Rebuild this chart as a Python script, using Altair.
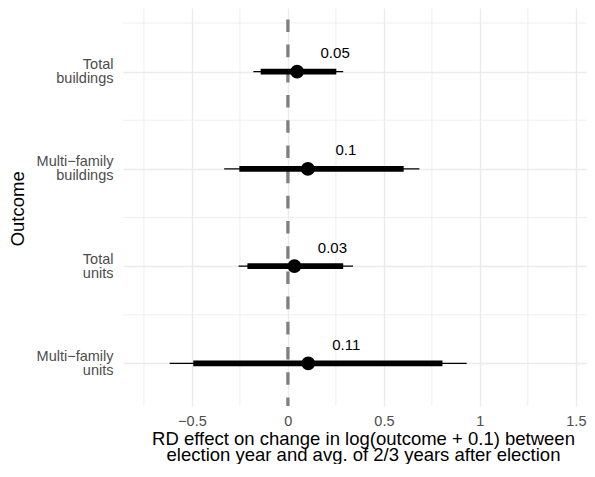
import altair as alt
import pandas as pd

# ---- data ----
outcomes = ["Total buildings", "Multi\u2212family buildings", "Total units", "Multi\u2212family units"]
positions = [4, 3, 2, 1]
estimates = [0.048, 0.104, 0.034, 0.106]
ci90_low = [-0.142, -0.253, -0.211, -0.493]
ci90_high = [0.252, 0.603, 0.288, 0.805]
ci95_low = [-0.180, -0.332, -0.257, -0.616]
ci95_high = [0.288, 0.685, 0.339, 0.931]
est_labels = ["0.05", "0.1", "0.03", "0.11"]

x_ticks = [-0.5, 0, 0.5, 1, 1.5]
x_tick_labels = ["\u22120.5", "0", "0.5", "1", "1.5"]
x_minor = [-0.75, -0.25, 0.25, 0.75, 1.25]
y_minor = [1.5, 2.5, 3.5, 4.5]
x_domain = [-0.859, 1.558]
y_domain = [0.561, 4.655]
ref_x = [0]

x_title = ["RD effect on change in log(outcome + 0.1) between",
           "election year and avg. of 2/3 years after election"]
y_title = "Outcome"

df = pd.DataFrame(dict(outcome=outcomes, pos=positions, est=estimates,
                       lo90=ci90_low, hi90=ci90_high, lo95=ci95_low, hi95=ci95_high,
                       label=est_labels))

W, H = 464, 398
FONT = "Liberation Sans"
GRID = "#EBEBEB"

xs = alt.Scale(domain=x_domain, nice=False, zero=False)
ys = alt.Scale(domain=y_domain, nice=False, zero=False)

x_label_expr = " : ".join(f"datum.value == {v} ? '{t}'" for v, t in zip(x_ticks, x_tick_labels)) + " : ''"
y_parts = []
for p, o in zip(positions, outcomes):
    a, b = o.rsplit(" ", 1)
    y_parts.append(f"datum.value == {p} ? ['{a}', '{b}']")
y_label_expr = " : ".join(y_parts) + " : ''"

x_axis = alt.Axis(values=x_ticks, labelExpr=x_label_expr, grid=True, gridColor=GRID, gridWidth=1.4,
                  domain=False, ticks=False, labelPadding=8.5, labelFontSize=14.5, labelColor="#4D4D4D",
                  labelFont=FONT, labelFlush=False, labelOverlap=False,
                  title=x_title, titleFont=FONT, titleFontSize=18.5, titleFontWeight="normal",
                  titleColor="black", titleLineHeight=16.3, titleBaseline="alphabetic",
                  titleX=240, titleY=38, titleAlign="center")
y_axis = alt.Axis(values=positions, labelExpr=y_label_expr, grid=True, gridColor=GRID, gridWidth=1.4,
                  domain=False, ticks=False, labelPadding=10, labelFontSize=14.5, labelColor="#4D4D4D",
                  labelFont=FONT, labelAlign="right", labelBaseline="middle", labelLineHeight=14,
                  labelOffset=-7, labelFlush=False, labelOverlap=False,
                  title=y_title, titleFont=FONT, titleFontSize=18.5, titleFontWeight="normal",
                  titleColor="black", titleX=-100, titleY=200.3, titleAngle=270,
                  titleBaseline="alphabetic", titleAlign="center")


def X(field):
    return alt.X(field, scale=xs, axis=x_axis)


def Y(field):
    return alt.Y(field, scale=ys, axis=y_axis)


minor_x = alt.Chart(pd.DataFrame({"v": x_minor})).mark_rule(color=GRID, strokeWidth=0.8).encode(
    x=X("v:Q"))
minor_y = alt.Chart(pd.DataFrame({"v": y_minor})).mark_rule(color=GRID, strokeWidth=0.8).encode(
    y=Y("v:Q"))
ref = alt.Chart(pd.DataFrame({"v": ref_x})).mark_rule(
    color="#7F7F7F", strokeWidth=3.3, strokeDash=[12.6, 12.6], strokeDashOffset=4).encode(
    x=X("v:Q"), y=alt.value(H), y2=alt.value(0))

base = alt.Chart(df)
thin = base.mark_rule(color="black", strokeWidth=1.3).encode(
    x=X("lo95:Q"), x2="hi95:Q", y=Y("pos:Q"))
thick = base.mark_rule(color="black", strokeWidth=5.7, strokeCap="butt").encode(
    x=X("lo90:Q"), x2="hi90:Q", y=Y("pos:Q"))
pts = base.mark_circle(color="black", size=192, opacity=1).encode(
    x=X("est:Q"), y=Y("pos:Q"))
txt = base.mark_text(font=FONT, fontSize=15, color="black", dx=38, dy=-13.4,
                     baseline="alphabetic", align="center").encode(
    x=X("est:Q"), y=Y("pos:Q"), text="label:N")

chart = alt.layer(minor_x, minor_y, ref, thin, thick, pts, txt).properties(
    width=W, height=H,
    padding={"left": 115, "top": 0, "right": 0, "bottom": 58},
    autosize=alt.AutoSizeParams(type="none"),
    background="white",
).configure_view(stroke=None)

chart.save("out.html", embed_options={"renderer": "svg", "actions": False})
